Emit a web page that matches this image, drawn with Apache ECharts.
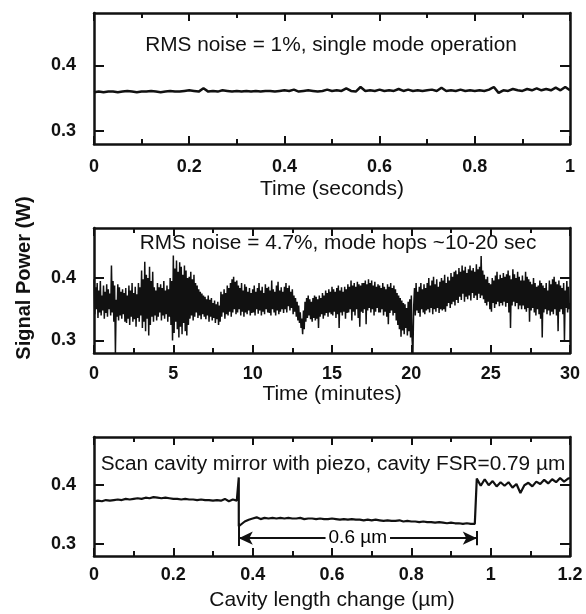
<!DOCTYPE html>
<html><head><meta charset="utf-8">
<script src="https://cdn.jsdelivr.net/npm/echarts@6/dist/echarts.min.js"></script>
<style>html,body{margin:0;padding:0;background:#fff}#c{width:586px;height:614px}</style>
</head><body><div id="c"></div>
<script>
// Panel 1: time (seconds), sampled every 0.01 s
const secStep = 0.01;
const secPower = [
0.359,0.360,0.359,0.360,0.360,0.359,0.360,0.361,0.360,0.359,0.360,0.360,0.361,0.360,0.359,0.360,0.361,0.360,0.360,0.361,0.362,
0.361,0.360,0.365,0.360,0.361,0.360,0.362,0.361,0.360,0.361,0.360,0.361,0.360,0.361,0.360,0.361,0.361,0.360,0.361,0.362,
0.361,0.363,0.360,0.361,0.362,0.361,0.360,0.361,0.363,0.361,0.362,0.361,0.365,0.361,0.360,0.367,0.361,0.362,0.361,0.363,
0.361,0.362,0.361,0.364,0.361,0.363,0.361,0.362,0.361,0.362,0.363,0.361,0.366,0.361,0.362,0.361,0.363,0.361,0.362,0.361,
0.362,0.361,0.363,0.367,0.358,0.362,0.361,0.364,0.362,0.361,0.364,0.362,0.365,0.362,0.364,0.362,0.366,0.362,0.367,0.362
];
// Panel 2: time (minutes), sampled every 0.05 min (one row per minute)
const minStep = 0.05;
const minPower = [
0.398,0.342,0.385,0.350,0.392,0.336,0.380,0.345,0.395,0.340,0.372,0.348,0.388,0.335,0.378,0.344,0.390,0.338,0.382,0.350,
0.375,0.340,0.420,0.345,0.395,0.330,0.388,0.280,0.365,0.338,0.390,0.332,0.385,0.340,0.378,0.335,0.382,0.342,0.376,0.330,
0.384,0.328,0.372,0.335,0.388,0.325,0.380,0.338,0.392,0.330,0.376,0.334,0.386,0.322,0.374,0.336,0.392,0.330,0.385,0.340,
0.412,0.320,0.398,0.330,0.426,0.315,0.405,0.335,0.400,0.308,0.418,0.325,0.395,0.338,0.410,0.330,0.385,0.340,0.380,0.332,
0.392,0.338,0.385,0.345,0.390,0.332,0.384,0.340,0.395,0.335,0.380,0.342,0.388,0.330,0.382,0.338,0.400,0.325,0.395,0.300,
0.436,0.312,0.415,0.330,0.428,0.318,0.410,0.305,0.425,0.322,0.418,0.310,0.405,0.328,0.420,0.315,0.412,0.308,0.400,0.325,
0.402,0.335,0.410,0.340,0.398,0.332,0.405,0.338,0.392,0.345,0.388,0.336,0.382,0.340,0.378,0.334,0.375,0.342,0.372,0.338,
0.370,0.334,0.366,0.340,0.372,0.330,0.365,0.338,0.368,0.332,0.360,0.336,0.364,0.328,0.358,0.334,0.362,0.325,0.356,0.330,
0.378,0.338,0.374,0.345,0.382,0.335,0.376,0.342,0.388,0.340,0.384,0.346,0.392,0.338,0.398,0.345,0.402,0.350,0.394,0.342,
0.396,0.345,0.388,0.350,0.384,0.340,0.392,0.346,0.380,0.338,0.390,0.345,0.386,0.342,0.378,0.348,0.384,0.340,0.376,0.344,
0.382,0.345,0.388,0.340,0.378,0.350,0.384,0.343,0.392,0.348,0.380,0.340,0.386,0.346,0.376,0.342,0.390,0.350,0.384,0.345,
0.386,0.344,0.380,0.340,0.396,0.350,0.382,0.345,0.378,0.340,0.388,0.348,0.394,0.342,0.380,0.346,0.385,0.350,0.378,0.344,
0.386,0.350,0.392,0.345,0.384,0.355,0.388,0.348,0.378,0.352,0.382,0.342,0.372,0.346,0.368,0.338,0.362,0.332,0.356,0.328,
0.345,0.320,0.335,0.310,0.348,0.318,0.362,0.330,0.368,0.336,0.372,0.340,0.366,0.334,0.362,0.330,0.368,0.336,0.372,0.332,
0.370,0.335,0.366,0.320,0.372,0.338,0.368,0.342,0.376,0.335,0.372,0.340,0.380,0.344,0.376,0.338,0.382,0.345,0.378,0.342,
0.386,0.340,0.382,0.346,0.378,0.336,0.384,0.342,0.388,0.320,0.380,0.345,0.385,0.340,0.378,0.346,0.386,0.335,0.382,0.344,
0.390,0.345,0.386,0.350,0.396,0.332,0.388,0.346,0.392,0.340,0.386,0.350,0.394,0.336,0.390,0.322,0.388,0.346,0.392,0.344,
0.392,0.350,0.396,0.326,0.390,0.348,0.398,0.352,0.392,0.345,0.396,0.350,0.388,0.340,0.394,0.346,0.386,0.352,0.390,0.345,
0.388,0.345,0.384,0.350,0.392,0.340,0.386,0.346,0.382,0.338,0.390,0.326,0.386,0.344,0.392,0.348,0.384,0.340,0.388,0.344,
0.382,0.332,0.376,0.325,0.372,0.318,0.368,0.306,0.364,0.316,0.360,0.310,0.358,0.320,0.352,0.308,0.362,0.315,0.366,0.305,
0.372,0.300,0.280,0.355,0.384,0.340,0.392,0.348,0.378,0.344,0.386,0.338,0.392,0.350,0.382,0.345,0.390,0.342,0.384,0.348,
0.392,0.350,0.400,0.345,0.388,0.352,0.396,0.342,0.402,0.350,0.390,0.346,0.398,0.352,0.386,0.344,0.394,0.350,0.400,0.348,
0.396,0.350,0.405,0.346,0.392,0.355,0.402,0.360,0.396,0.352,0.408,0.358,0.402,0.362,0.410,0.356,0.412,0.365,0.406,0.360,
0.416,0.370,0.410,0.365,0.420,0.375,0.412,0.362,0.418,0.370,0.408,0.366,0.414,0.372,0.420,0.364,0.412,0.376,0.416,0.368,
0.410,0.372,0.422,0.365,0.414,0.375,0.418,0.368,0.435,0.372,0.412,0.366,0.405,0.360,0.398,0.356,0.402,0.362,0.392,0.350,
0.390,0.346,0.400,0.360,0.396,0.352,0.404,0.358,0.410,0.362,0.398,0.355,0.405,0.360,0.400,0.356,0.408,0.362,0.402,0.354,
0.406,0.360,0.412,0.345,0.404,0.320,0.398,0.356,0.414,0.362,0.406,0.355,0.400,0.360,0.410,0.350,0.402,0.356,0.396,0.350,
0.404,0.356,0.396,0.350,0.410,0.346,0.402,0.352,0.398,0.330,0.394,0.348,0.390,0.352,0.400,0.345,0.392,0.340,0.386,0.350,
0.388,0.342,0.396,0.335,0.392,0.305,0.388,0.345,0.384,0.350,0.392,0.342,0.380,0.348,0.396,0.340,0.390,0.346,0.398,0.342,
0.402,0.350,0.394,0.340,0.390,0.315,0.396,0.346,0.388,0.350,0.384,0.342,0.392,0.300,0.380,0.352,0.395,0.345,0.386,0.350,
0.360
];
// Panel 3: cavity length change (µm) vs power
const scanData = [
[0.00,0.372],[0.01,0.373],[0.02,0.372],[0.03,0.374],[0.04,0.373],[0.05,0.374],[0.06,0.375],[0.07,0.374],[0.08,0.376],[0.09,0.375],
[0.10,0.376],[0.11,0.377],[0.12,0.376],[0.13,0.378],[0.14,0.377],[0.15,0.379],[0.16,0.378],[0.17,0.377],[0.18,0.378],[0.19,0.377],
[0.20,0.376],[0.21,0.376],[0.22,0.375],[0.23,0.376],[0.24,0.375],[0.25,0.375],[0.26,0.374],[0.27,0.375],[0.28,0.374],[0.29,0.374],
[0.30,0.373],[0.31,0.374],[0.32,0.373],[0.33,0.376],[0.34,0.372],[0.35,0.375],[0.36,0.373],
[0.365,0.374],[0.365,0.412],[0.365,0.33],
[0.37,0.332],[0.38,0.338],[0.39,0.341],[0.40,0.343],[0.41,0.345],[0.42,0.342],[0.43,0.344],[0.44,0.343],[0.45,0.344],[0.46,0.343],
[0.47,0.344],[0.48,0.343],[0.49,0.344],[0.50,0.343],[0.51,0.343],[0.52,0.344],[0.53,0.342],[0.54,0.343],[0.55,0.343],[0.56,0.342],
[0.57,0.343],[0.58,0.342],[0.59,0.342],[0.60,0.343],[0.61,0.342],[0.62,0.341],[0.63,0.342],[0.64,0.341],[0.65,0.342],[0.66,0.341],
[0.67,0.341],[0.68,0.340],[0.69,0.341],[0.70,0.340],[0.71,0.341],[0.72,0.340],[0.73,0.339],[0.74,0.340],[0.75,0.339],[0.76,0.339],
[0.77,0.340],[0.78,0.338],[0.79,0.339],[0.80,0.338],[0.81,0.338],[0.82,0.337],[0.83,0.338],[0.84,0.337],[0.85,0.337],[0.86,0.336],
[0.87,0.337],[0.88,0.336],[0.89,0.335],[0.90,0.336],[0.91,0.335],[0.92,0.335],[0.93,0.334],[0.94,0.335],[0.95,0.334],[0.96,0.334],
[0.965,0.334],[0.965,0.410],
[0.97,0.408],[0.975,0.398],[0.98,0.396],[0.985,0.409],[0.99,0.410],[0.995,0.399],[1.00,0.398],[1.005,0.406],[1.01,0.407],[1.015,0.397],
[1.02,0.395],[1.025,0.404],[1.03,0.405],[1.035,0.398],[1.04,0.397],[1.045,0.404],[1.05,0.403],[1.055,0.395],[1.06,0.392],[1.065,0.401],
[1.07,0.400],[1.075,0.386],[1.08,0.384],[1.085,0.399],[1.09,0.398],[1.095,0.403],[1.10,0.402],[1.105,0.397],[1.11,0.396],[1.115,0.405],
[1.12,0.406],[1.125,0.401],[1.13,0.400],[1.135,0.408],[1.14,0.408],[1.145,0.402],[1.15,0.401],[1.155,0.409],[1.16,0.410],[1.165,0.404],
[1.17,0.403],[1.175,0.411],[1.18,0.412],[1.185,0.405],[1.19,0.404],[1.195,0.410],[1.20,0.411]
];
const yTickValues = [0.3, 0.4];
const fsrArrow = { from: 0.365, to: 0.965, level: 0.31, label: '0.6 µm' };

const FONT = '"Liberation Sans", Arial, Helvetica, sans-serif';
const INK = '#111';

function xPair(gi, max, interval, name, labelMargin, nameGap) {
  const base = {
    type: 'value', gridIndex: gi, min: 0, max: max, interval: interval,
    axisLine: { show: true, onZero: false, lineStyle: { color: INK, width: 2.5 } },
    axisTick: { show: true, inside: true, length: 8, lineStyle: { color: INK, width: 2 } },
    minorTick: { show: true, splitNumber: 2, length: 5, lineStyle: { color: INK, width: 2 } },
    splitLine: { show: false }, minorSplitLine: { show: false }
  };
  return [
    Object.assign({}, base, {
      position: 'bottom',
      axisLabel: { show: true, color: INK, fontFamily: FONT, fontSize: 18, fontWeight: 'bold', margin: labelMargin },
      name: name, nameLocation: 'middle', nameGap: nameGap,
      nameTextStyle: { color: INK, fontFamily: FONT, fontSize: 21 }
    }),
    Object.assign({}, base, { position: 'top', axisLabel: { show: false } })
  ];
}
function yPair(gi) {
  const base = {
    type: 'value', gridIndex: gi, min: 0.28, max: 0.48,
    axisLine: { show: true, onZero: false, lineStyle: { color: INK, width: 2.5 } },
    axisTick: { show: true, inside: true, length: 10, customValues: yTickValues, lineStyle: { color: INK, width: 2 } },
    splitLine: { show: false }
  };
  return [
    Object.assign({}, base, {
      position: 'left',
      axisLabel: { show: true, customValues: yTickValues, formatter: v => v.toFixed(1), color: INK, fontFamily: FONT, fontSize: 18, fontWeight: 'bold', margin: 18 }
    }),
    Object.assign({}, base, { position: 'right', axisLabel: { show: false } })
  ];
}

function note(text, x, y) {
  return { type: 'text', x: x, y: y, scaleX: 1.04, z: 10,
    style: { text: text, x: 0, y: 0, align: 'center', verticalAlign: 'middle', fill: INK, font: '20px ' + FONT } };
}

const chart = echarts.init(document.getElementById('c'), null, { renderer: 'canvas' });
chart.setOption({
  animation: false,
  backgroundColor: '#fff',
  grid: [
    { left: 94, top: 13, width: 476, height: 131 },
    { left: 94, top: 228, width: 476, height: 125 },
    { left: 94, top: 437, width: 476, height: 119 }
  ],
  xAxis: [].concat(
    xPair(0, 1, 0.2, 'Time (seconds)', 14, 35),
    xPair(1, 30, 5, 'Time (minutes)', 12, 29),
    xPair(2, 1.2, 0.2, 'Cavity length change (µm)', 10, 34)
  ),
  yAxis: [].concat(yPair(0), yPair(1), yPair(2)),
  series: [
    { type: 'line', xAxisIndex: 0, yAxisIndex: 0, showSymbol: false, silent: true,
      data: secPower.map((v, i) => [i * secStep, v]),
      lineStyle: { color: INK, width: 2.5 } },
    { type: 'line', xAxisIndex: 2, yAxisIndex: 2, showSymbol: false, silent: true,
      data: minPower.map((v, i) => [i * minStep, v]),
      lineStyle: { color: INK, width: 1.5 } },
    { type: 'line', xAxisIndex: 4, yAxisIndex: 4, showSymbol: false, silent: true,
      data: scanData,
      lineStyle: { color: INK, width: 2.2 },
      markLine: {
        silent: true, symbol: 'none', animation: false,
        lineStyle: { color: INK, width: 2, type: 'solid' },
        label: { show: false },
        data: [
          [{ coord: [fsrArrow.from, fsrArrow.level], symbol: 'arrow', symbolSize: [10, 14] },
           { coord: [fsrArrow.to, fsrArrow.level], symbol: 'arrow', symbolSize: [10, 14] }],
          [{ coord: [fsrArrow.from, 0.297] }, { coord: [fsrArrow.from, 0.335] }],
          [{ coord: [fsrArrow.to, 0.298] }, { coord: [fsrArrow.to, 0.322] }]
        ]
      }
    },
    { type: 'scatter', xAxisIndex: 4, yAxisIndex: 4, silent: true, symbolSize: 1, z: 5,
      itemStyle: { color: '#fff', opacity: 1 },
      data: [[(fsrArrow.from + fsrArrow.to) / 2, fsrArrow.level]],
      label: { show: true, position: 'inside', formatter: fsrArrow.label, color: '#000', opacity: 1,
        fontFamily: FONT, fontSize: 19, backgroundColor: '#fff', padding: [0, 3] } }
  ],
  graphic: [
    note('RMS noise = 1%, single mode operation', 331, 45),
    note('RMS noise = 4.7%, mode hops ~10-20 sec', 338, 243),
    note('Scan cavity mirror with piezo, cavity FSR=0.79 µm', 333, 464),
    { type: 'text', x: 24, y: 278, rotation: Math.PI / 2, style: { text: 'Signal Power (W)', x: 0, y: 0,
      align: 'center', verticalAlign: 'middle', fill: INK, font: 'bold 20px ' + FONT } }
  ]
});
</script></body></html>
